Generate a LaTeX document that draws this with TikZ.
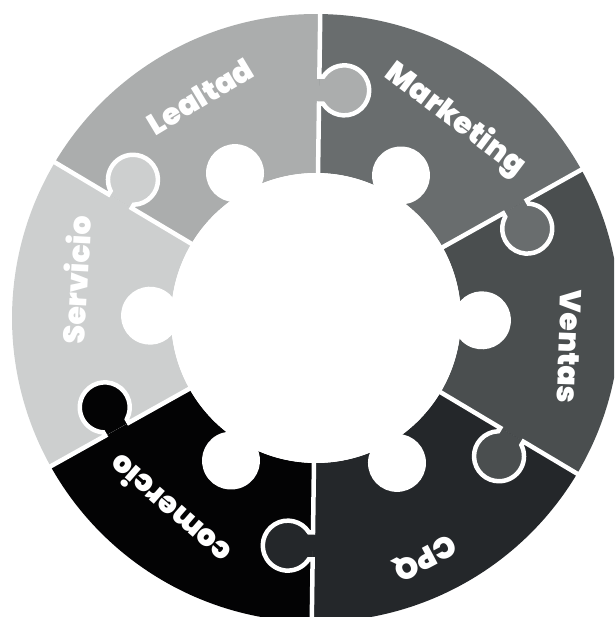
\documentclass[tikz,border=0pt]{standalone}
\usepackage{fontspec}
\setmainfont{Poppins}
\newfontfamily\lblfont{Poppins}[UprightFont={* Black}]
\usepackage{tikz}

\definecolor{lealtadfill}{HTML}{ABADAD}
\definecolor{marketingfill}{HTML}{696D6E}
\definecolor{ventasfill}{HTML}{4A4E4F}
\definecolor{cpqfill}{HTML}{24272A}
\definecolor{comerciofill}{HTML}{030304}
\definecolor{serviciofill}{HTML}{CDCFCF}

\begin{document}
\begin{tikzpicture}[x=1pt,y=1pt,
		cut/.style={white,line width=4.5pt},
		lbl/.style={text=white,inner sep=0pt,font=\fontsize{30}{30}\selectfont\lblfont}]
			\useasboundingbox (-316,-299) rectangle (298,318);
			\clip (-316,-299) rectangle (298,318);

			\begin{scope}[rotate=-0.8]
			% ring pieces, each from its divider \a to \a+60
			\foreach \a/\col in {90/lealtadfill,30/marketingfill,-30/ventasfill,-90/cpqfill,-150/comerciofill,150/serviciofill}{
				\fill[\col,rotate=\a] (0:145) -- (0:304) arc[start angle=0,end angle=60,radius=304] -- (60:145) arc[start angle=60,end angle=0,radius=145] -- cycle;
				}
			% outer tabs, pushed into the next piece
			\foreach \a/\col in {90/lealtadfill,30/marketingfill,-30/ventasfill,-90/cpqfill,-150/comerciofill,150/serviciofill}{
				\fill[\col,rotate=\a] (214.5,0) -- (214.5,-4) arc[start angle=122.7,end angle=417.3,radius=25] -- (241.5,0) -- cycle;
				}
			\foreach \a in {90,30,-30,-90,-150,150}{
				\draw[cut,rotate=\a] (140,0) -- (214.5,0) -- (214.5,-4) arc[start angle=122.7,end angle=417.3,radius=25] -- (241.5,0) -- (310,0);
				}
			% hole in the middle
			\fill[white] (0,0) circle (145);
			\foreach \a in {90,30,-30,-90,-150,150}{
				\fill[white,rotate=\a] (30:166) circle (29);
				}
			\end{scope}

			\node[lbl,rotate=31] (lealtad) at (117.6:250) {Lealtad};
			\node[lbl,rotate=-37] (marketing) at (54.9:242) {Marketing};
			\node[lbl,rotate=-92] (ventas) at (-6.5:255) {Ventas};
			\node[lbl,rotate=-152] (cpq) at (-65.5:263) {CPQ};
			\node[lbl,rotate=139] (comercio) at (232.6:242) {comercio};
			\node[lbl,rotate=87] (servicio) at (171:243) {Servicio};
		\end{tikzpicture}
\end{document}
